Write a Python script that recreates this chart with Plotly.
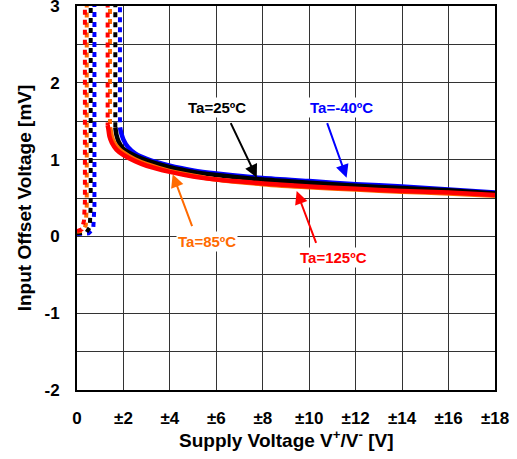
import plotly.graph_objects as go

# ---- data ----
temps = ["Ta=-40ºC", "Ta=25ºC", "Ta=85ºC", "Ta=125ºC"]
colors = ["#0000FF", "#000000", "#FF6A00", "#FF0000"]

# solid (operating) region
v_m40 = [1.85, 1.9, 2.0, 2.2, 2.5, 3, 4, 5, 6, 8, 10, 12, 14, 16, 18]
y_m40 = [1.42, 1.35, 1.26, 1.16, 1.08, 1.01, 0.92, 0.86, 0.82, 0.76, 0.72, 0.68, 0.65, 0.61, 0.57]
v_25 = [1.65, 1.7, 1.8, 2.0, 2.5, 3, 4, 5, 6, 8, 10, 12, 14, 16, 18]
y_25 = [1.42, 1.32, 1.23, 1.14, 1.05, 0.99, 0.9, 0.84, 0.8, 0.74, 0.7, 0.66, 0.63, 0.6, 0.56]
v_85 = [1.42, 1.45, 1.5, 1.6, 1.8, 2.0, 2.5, 3, 4, 5, 6, 8, 10, 12, 14, 16, 18]
y_85 = [1.42, 1.38, 1.3, 1.22, 1.14, 1.09, 1.0, 0.94, 0.85, 0.79, 0.74, 0.68, 0.64, 0.61, 0.58, 0.56, 0.53]
v_125 = [1.32, 1.35, 1.4, 1.5, 1.7, 2.0, 2.5, 3, 4, 5, 6, 8, 10, 12, 14, 16, 18]
y_125 = [1.45, 1.4, 1.3, 1.22, 1.13, 1.06, 0.98, 0.92, 0.84, 0.78, 0.74, 0.69, 0.65, 0.62, 0.59, 0.57, 0.54]

# dotted (start-up) region
dv_m40 = [0.0, 0.5, 0.7, 0.75, 0.75, 1.85, 1.85]
dy_m40 = [0.03, 0.04, 0.1, 0.4, 3.6, 3.6, 1.42]
dv_25 = [0.0, 0.4, 0.55, 0.59, 0.59, 1.65, 1.65]
dy_25 = [0.04, 0.05, 0.12, 0.4, 3.6, 3.6, 1.42]
dv_85 = [0.0, 0.25, 0.38, 0.42, 0.42, 1.42, 1.42]
dy_85 = [0.06, 0.07, 0.15, 0.4, 3.6, 3.6, 1.42]
dv_125 = [0.0, 0.2, 0.3, 0.34, 0.34, 1.32, 1.32]
dy_125 = [0.07, 0.09, 0.2, 0.45, 3.6, 3.6, 1.45]

x_ticks = [0, 2, 4, 6, 8, 10, 12, 14, 16, 18]
x_ticktext = ["0", "±2", "±4", "±6", "±8", "±10", "±12", "±14", "±16", "±18"]
y_ticks = [-2, -1, 0, 1, 2, 3]

# label positions / arrow (tail -> tip) in data units
lab_x = [11.37, 6.01, 5.6, 11.05]
lab_y = [1.68, 1.68, -0.06, -0.28]
arr_tail_x = [10.75, 6.59, 4.98, 10.32]
arr_tail_y = [1.495, 1.495, 0.113, -0.104]
arr_tip_x = [11.61, 7.74, 4.12, 9.46]
arr_tip_y = [0.765, 0.765, 0.81, 0.59]

solid_v = [v_m40, v_25, v_85, v_125]
solid_y = [y_m40, y_25, y_85, y_125]
dot_v = [dv_m40, dv_25, dv_85, dv_125]
dot_y = [dy_m40, dy_25, dy_85, dy_125]

fig = go.Figure()
for i in range(4):
    fig.add_trace(go.Scatter(x=dot_v[i], y=dot_y[i], mode="lines",
                             line=dict(color=colors[i], width=4, dash="5px,5px"),
                             showlegend=False, hoverinfo="skip"))
for i in range(4):
    fig.add_trace(go.Scatter(x=solid_v[i], y=solid_y[i], mode="lines",
                             line=dict(color=colors[i], width=4.5, shape="spline", smoothing=0.6),
                             name=temps[i], showlegend=False))

font_b = "Liberation Sans, Arial, sans-serif"
for i in range(4):
    fig.add_annotation(x=arr_tip_x[i], y=arr_tip_y[i], ax=arr_tail_x[i], ay=arr_tail_y[i],
                       xref="x", yref="y", axref="x", ayref="y", text="",
                       showarrow=True, arrowhead=2, arrowsize=1.3, arrowwidth=2,
                       arrowcolor=colors[i], standoff=0)
    fig.add_annotation(x=lab_x[i], y=lab_y[i], xref="x", yref="y", text="<b>%s</b>" % temps[i],
                       showarrow=False, bgcolor="white", borderpad=1,
                       font=dict(family=font_b, size=15, color=colors[i]))

# x-axis title as a paper annotation
fig.add_annotation(x=0.5, y=-0.128, xref="paper", yref="paper", xanchor="center", yanchor="middle",
                   text="<b>Supply Voltage V<sup>+</sup>/V<sup>-</sup> [V]</b>", showarrow=False,
                   font=dict(family=font_b, size=19, color="black"))

fig.update_layout(
    width=517, height=459,
    margin=dict(l=77, r=22, t=6, b=69),
    paper_bgcolor="white", plot_bgcolor="white",
    font=dict(family=font_b, size=17, color="black"),
    xaxis=dict(range=[0, 18], tickvals=x_ticks, ticktext=["<b>%s</b>" % t for t in x_ticktext],
               showgrid=True, gridcolor="#333333", gridwidth=1.3, zeroline=False,
               showline=True, linecolor="black", linewidth=2, mirror=True,
               ticks="", ticklabelstandoff=12, automargin=False, ticklabeloverflow="allow"),
    yaxis=dict(range=[-2, 3], tickvals=y_ticks, ticktext=["<b>%d</b>" % t for t in y_ticks],
               showgrid=True, gridcolor="#333333", gridwidth=1.3, zeroline=False,
               minor=dict(dtick=0.5, showgrid=True, gridcolor="#333333", gridwidth=1.3),
               showline=True, linecolor="black", linewidth=2, mirror=True,
               ticks="", ticklabelstandoff=12, automargin=False, ticklabeloverflow="allow",
               title=dict(text="<b>Input Offset Voltage [mV]</b>", font=dict(size=19), standoff=8)),
)

fig.write_html("out.html", config={"displayModeBar": False},
               post_script="document.body.style.margin='0px';")
